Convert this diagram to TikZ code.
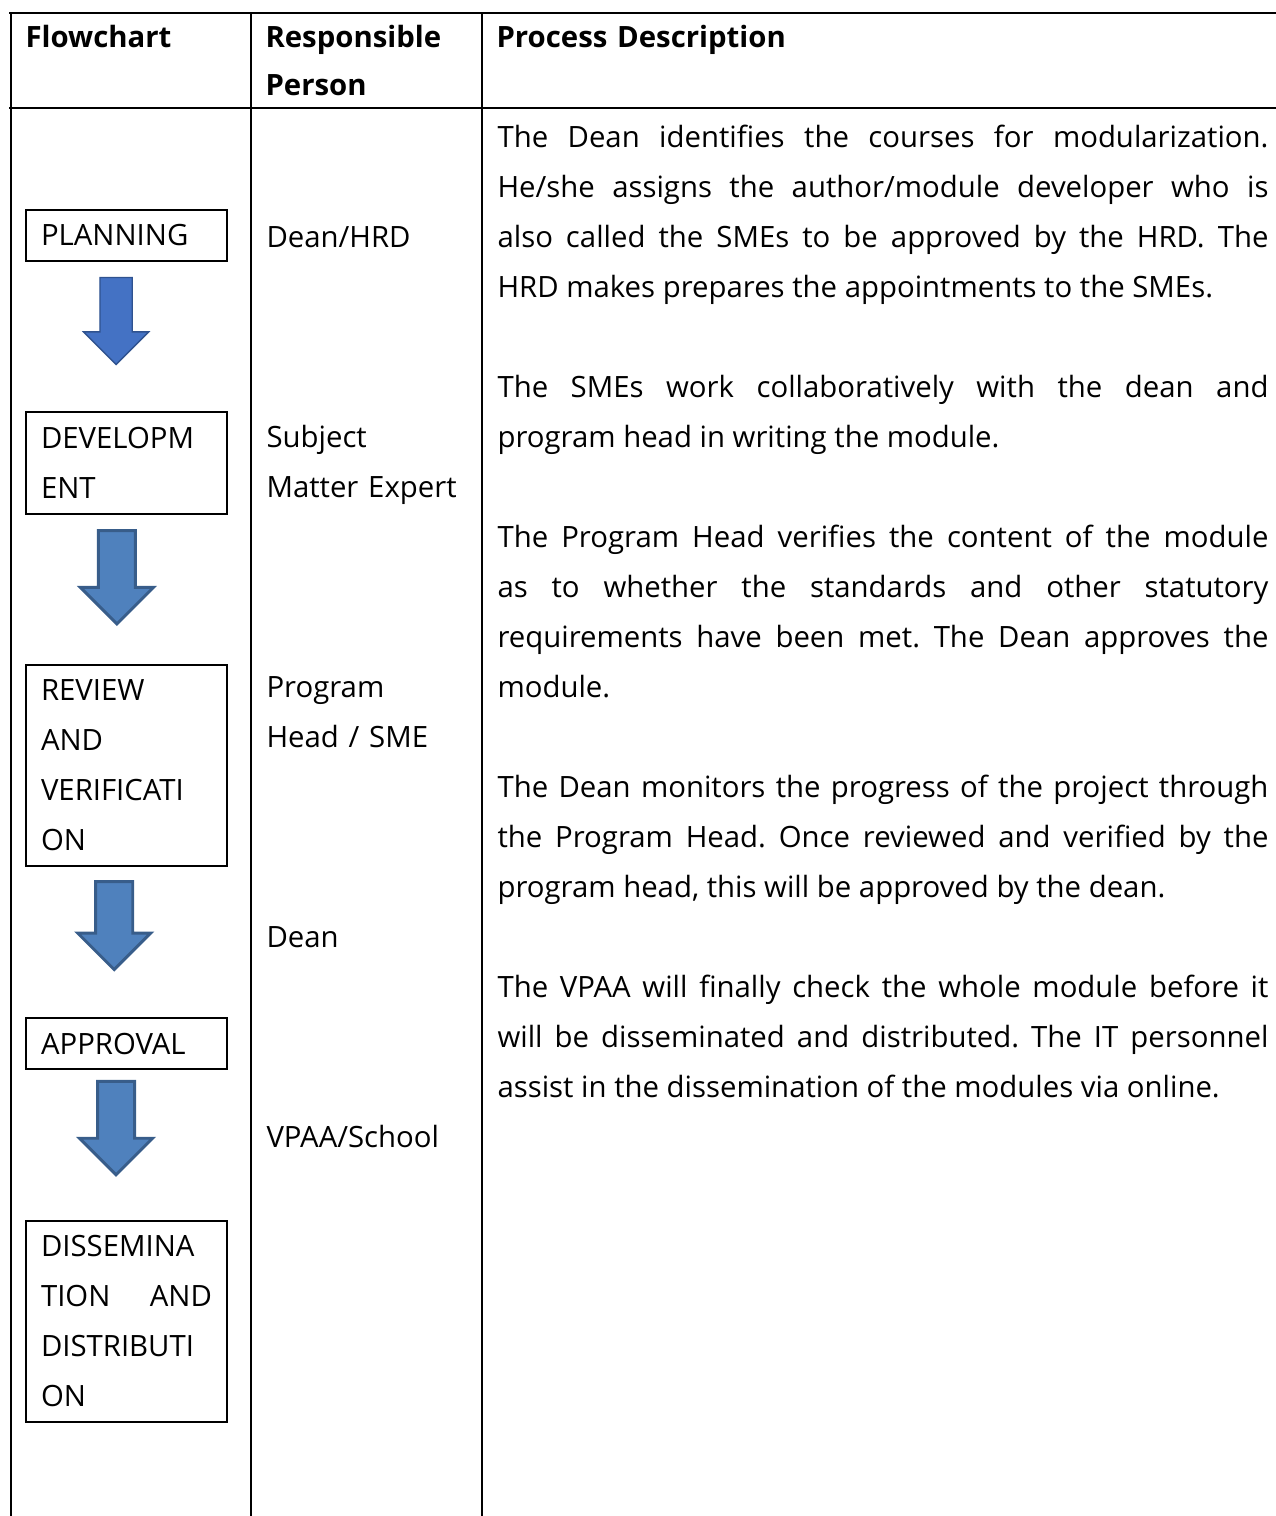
\documentclass[tikz,border=0pt]{standalone}
\usepackage{fontspec}
\setmainfont{Open Sans}
\usetikzlibrary{positioning, shapes.arrows}

\definecolor{arrowfillA}{HTML}{4472C4}
\definecolor{arrowlineA}{HTML}{2F528F}
\definecolor{arrowfill}{HTML}{4F81BD}
\definecolor{arrowline}{HTML}{385D8A}

\begin{document}
\frenchspacing
\begin{tikzpicture}[
    % GLOBAL CFG
    x=0.375pt, y=-0.375pt,
    font=\fontsize{11}{18.75}\selectfont,
    % Styles
    stepbox/.style={% For the flowchart steps
        rectangle,
        draw,
        line width=0.75pt,
        minimum width=75.4pt,
        text width=64.1pt,
        inner xsep=5.6pt,
        inner ysep=0pt,
        align=left,
        },
    flowarrow/.style={% Block arrows between the steps
        single arrow,
        shape border rotate=270,
        draw=arrowline,
        fill=arrowfill,
        line width=1.1pt,
        inner sep=6.4pt,
        minimum height=35pt,
        single arrow head extend=6.75pt,
        anchor=tail,
        },
    head/.style={% Table header
        anchor=base west,
        inner sep=0pt,
        text width=75pt,
        align=left,
        font=\fontsize{11}{18}\selectfont\bfseries,
        },
    person/.style={% Responsible person column
        anchor=base west,
        inner sep=0pt,
        text width=75.4pt,
        align=left,
        },
    desc/.style={% Process description column
        anchor=base west,
        inner sep=0pt,
        text width=289.1pt,
        align=justify,
        },
    tableline/.style={% Table rules
        line width=1.1pt,
        },
    ]

    \useasboundingbox (0,0) rectangle (1276,1516);

    % Draw the table
    \draw [tableline] (9,13) -- (1276,13);
    \draw [tableline] (9,108) -- (1276,108);
    \draw [tableline] (11,13) -- (11,1516);
    \draw [tableline] (251,13) -- (251,1516);
    \draw [tableline] (482,13) -- (482,1516);

    % Header
    \node[head] (hflow) at (25,47) {Flowchart};
    \node[head] (hperson) at (265,47) {Responsible\\Person};
    \node[head, text width=200pt] (hdesc) at (496,47) {Process Description};

    % Draw the steps
    \node [stepbox, minimum height=19.1pt] (plan) at (126.5,235.5) {PLANNING};
    \node [stepbox, minimum height=38.25pt] (dev) at (126.5,463) {DEVELOPM\\ENT};
    \node [stepbox, minimum height=75.4pt] (review) at (126.5,765.5) {REVIEW\\AND\\VERIFICATI\\ON};
    \node [stepbox, minimum height=19.1pt] (appr) at (126.5,1043.5) {APPROVAL};
    \node [stepbox, minimum height=75.4pt, align=justify] (dissem) at (126.5,1321.5)
        {DISSEMINA\linebreak TION AND\linebreak DISTRIBUTI\linebreak ON};

    % Arrows between the steps
    \node [flowarrow, below=5.6pt of plan, anchor=tail, xshift=-3.9pt,
        fill=arrowfillA, draw=arrowlineA, line width=0.5pt, inner sep=5.8pt,
        minimum height=32.6pt, single arrow head extend=6.2pt] (a1) {};
    \node [flowarrow, below=5.3pt of dev, anchor=tail, xshift=-3.6pt] (a2) {};
    \node [flowarrow, below=4.9pt of review, anchor=tail, xshift=-4.6pt, minimum height=33pt] (a3) {};
    \node [flowarrow, below=3.75pt of appr, anchor=tail, xshift=-3.9pt] (a4) {};

    % Responsible persons
    \node[person] (p1) at (266,247) {Dean/HRD};
    \node[person] (p2) at (266,447) {Subject\\Matter Expert};
    \node[person] (p3) at (266,697) {Program\\Head / SME};
    \node[person] (p4) at (266,947) {Dean};
    \node[person] (p5) at (266,1147) {VPAA/School};

    % Process descriptions
    \node[desc] (d1) at (497,147) {The Dean identifies the courses for modularization.\linebreak
        He/she assigns the author/module developer who is\linebreak
        also called the SMEs to be approved by the HRD. The\linebreak
        HRD makes prepares the appointments to the SMEs.};
    \node[desc] (d2) at (497,397) {The SMEs work collaboratively with the dean and\linebreak
        program head in writing the module.};
    \node[desc] (d3) at (497,547) {The Program Head verifies the content of the module\linebreak
        as to whether the standards and other statutory\linebreak
        requirements have been met. The Dean approves the\linebreak
        module.};
    \node[desc] (d4) at (497,797) {The Dean monitors the progress of the project through\linebreak
        the Program Head. Once reviewed and verified by the\linebreak
        program head, this will be approved by the dean.};
    \node[desc] (d5) at (497,997) {The VPAA will finally check the whole module before it\linebreak
        will be disseminated and distributed. The IT personnel\linebreak
        assist in the dissemination of the modules via online.};

\end{tikzpicture}
\end{document}
